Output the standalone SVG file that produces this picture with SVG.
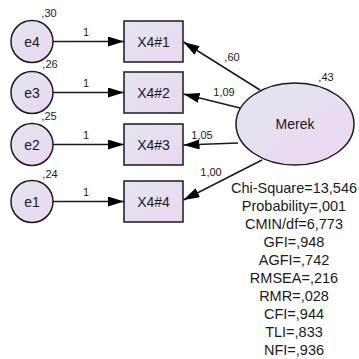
<svg xmlns="http://www.w3.org/2000/svg" width="359" height="359" viewBox="0 0 359 359">
<defs>
<linearGradient id="g" x1="0" y1="0" x2="1" y2="1">
<stop offset="0" stop-color="#e2e6ee"/>
<stop offset="1" stop-color="#ecd6f2"/>
</linearGradient>
<marker id="ah" markerUnits="userSpaceOnUse" markerWidth="16" markerHeight="10" refX="16" refY="5" orient="auto">
<path d="M0,0 L16,5 L0,10 z" fill="#000"/>
</marker>
</defs>
<style>
.shape{fill:url(#g);stroke:#1a1a1a;stroke-width:1.5}
.lbl{font-family:"Liberation Sans",Arial,sans-serif;font-size:14px;fill:#1a1a1a;text-anchor:middle}
.sm{font-family:"Liberation Sans",Arial,sans-serif;font-size:11px;fill:#1a1a1a;text-anchor:middle}
.st{font-family:"Liberation Sans",Arial,sans-serif;font-size:14.5px;fill:#1a1a1a;text-anchor:middle}
.conn{stroke:#1a1a1a;stroke-width:1.5;fill:none;marker-end:url(#ah)}
</style>
<g id="connectors">
<line class="conn" x1="53" y1="41.5" x2="124" y2="41.5"/>
<line class="conn" x1="53" y1="92.5" x2="124" y2="92.5"/>
<line class="conn" x1="53" y1="144.5" x2="124" y2="144.5"/>
<line class="conn" x1="53" y1="201.5" x2="124" y2="201.5"/>
<line class="conn" x1="260" y1="90" x2="183.5" y2="42"/>
<line class="conn" x1="240" y1="108" x2="183.5" y2="94"/>
<line class="conn" x1="238" y1="143" x2="183.5" y2="145"/>
<line class="conn" x1="262" y1="160" x2="183.5" y2="200"/>
<text class="sm" x="86" y="36">1</text>
<text class="sm" x="86" y="87">1</text>
<text class="sm" x="86" y="139">1</text>
<text class="sm" x="86" y="196">1</text>
<text class="sm" x="232" y="61">,60</text>
<text class="sm" x="224" y="96">1,09</text>
<text class="sm" x="202" y="139">1,05</text>
<text class="sm" x="211" y="176">1,00</text>
</g>
<g id="e4"><circle class="shape" cx="32" cy="41.5" r="21"/><text class="lbl" x="32" y="46.5">e4</text><text class="sm" x="49" y="17">,30</text></g>
<g id="e3"><circle class="shape" cx="32" cy="92.5" r="21"/><text class="lbl" x="32" y="97.5">e3</text><text class="sm" x="50" y="68">,26</text></g>
<g id="e2"><circle class="shape" cx="32" cy="144.5" r="21"/><text class="lbl" x="32" y="149.5">e2</text><text class="sm" x="49" y="120">,25</text></g>
<g id="e1"><circle class="shape" cx="32" cy="201.5" r="21"/><text class="lbl" x="32" y="206.5">e1</text><text class="sm" x="50" y="178">,24</text></g>
<g id="X4_1"><rect class="shape" x="124" y="21" width="59" height="41"/><text class="lbl" x="153.5" y="46.5">X4#1</text></g>
<g id="X4_2"><rect class="shape" x="124" y="72" width="59" height="41"/><text class="lbl" x="153.5" y="97.5">X4#2</text></g>
<g id="X4_3"><rect class="shape" x="124" y="124" width="59" height="41"/><text class="lbl" x="153.5" y="149.5">X4#3</text></g>
<g id="X4_4"><rect class="shape" x="124" y="181" width="59" height="41"/><text class="lbl" x="153.5" y="206.5">X4#4</text></g>
<g id="Merek"><ellipse class="shape" cx="295" cy="124" rx="59" ry="41"/><text class="lbl" x="295" y="129">Merek</text><text class="sm" x="326" y="81">,43</text></g>
<g id="fit">
<text class="st" x="294" y="193">Chi-Square=13,546</text>
<text class="st" x="294" y="211">Probability=,001</text>
<text class="st" x="294" y="229">CMIN/df=6,773</text>
<text class="st" x="294" y="247">GFI=,948</text>
<text class="st" x="294" y="265">AGFI=,742</text>
<text class="st" x="294" y="283">RMSEA=,216</text>
<text class="st" x="294" y="301">RMR=,028</text>
<text class="st" x="294" y="319">CFI=,944</text>
<text class="st" x="294" y="337">TLI=,833</text>
<text class="st" x="294" y="355">NFI=,936</text>
</g>
</svg>
